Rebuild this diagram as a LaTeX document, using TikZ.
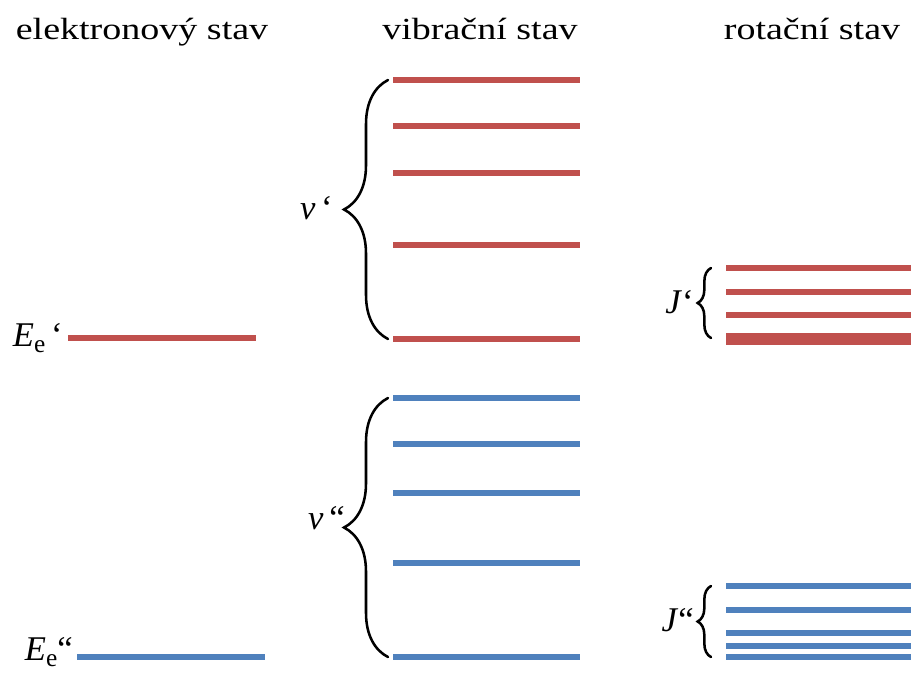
\documentclass[tikz,border=0pt]{standalone}
\usepackage{fontspec}
\setmainfont{Liberation Serif}
\usetikzlibrary{decorations.pathreplacing}
\definecolor{upper}{HTML}{C0504D}
\definecolor{lower}{HTML}{4F81BD}
\newcommand{\subE}[1]{\raisebox{-0.35ex}{\fontsize{19}{20}\selectfont #1}}
\begin{document}
\begin{tikzpicture}[x=0.75pt,y=-0.75pt,
  level/.style={line width=4.5pt},
  up/.style={level,draw=upper},
  low/.style={level,draw=lower},
  curly/.style={decorate,decoration={brace,amplitude=#1},line width=1.9pt,line cap=round},
  title/.style={font=\fontsize{23}{28}\selectfont,anchor=base,inner sep=0pt,xscale=1.24},
  lab/.style={font=\fontsize{26}{30}\selectfont,inner sep=0pt}]
\useasboundingbox (0,0) rectangle (911,672);

% column headings
\node[title] (t1) at (142,39) {elektronový stav};
\node[title] (t2) at (480,39) {vibrační stav};
\node[title] (t3) at (812,39) {rotační stav};

% electronic levels
\coordinate (eu1) at (68,338);  \coordinate (eu2) at (256,338);
\coordinate (el1) at (77,657);  \coordinate (el2) at (265,657);
\draw[up] (eu1) -- (eu2);
\draw[low] (el1) -- (el2);
\node[lab,anchor=east] (Eu) at (63,338) {\textit{E}\subE{e}\,‘};
\node[lab,anchor=east] (El) at (73,652) {\textit{E}\subE{e}“};

% vibrational levels
\foreach \y [count=\i] in {80,126,173,245,339} {
  \coordinate (vu\i a) at (393,\y); \coordinate (vu\i b) at (580,\y);
  \draw[up] (vu\i a) -- (vu\i b);
}
\foreach \y [count=\i] in {398,444,493,563,657} {
  \coordinate (vl\i a) at (393,\y); \coordinate (vl\i b) at (580,\y);
  \draw[low] (vl\i a) -- (vl\i b);
}
\coordinate (bvu1) at (388,339); \coordinate (bvu2) at (388,80);
\coordinate (bvl1) at (388,657); \coordinate (bvl2) at (388,398);
\draw[curly=33pt] (bvu1) -- (bvu2);
\draw[curly=33pt] (bvl1) -- (bvl2);
\node[lab,anchor=east] (vu) at (333,208) {\textit{v}\,‘};
\node[lab,anchor=east] (vl) at (345,518) {\textit{v}\,“};

% rotational levels
\foreach \y/\w [count=\i] in {268/4.5,292/4.5,315/4.5,339/9} {
  \coordinate (ru\i a) at (726,\y); \coordinate (ru\i b) at (911,\y);
  \draw[up,line width=\w pt] (ru\i a) -- (ru\i b);
}
\foreach \y [count=\i] in {586,610,633,646,657} {
  \coordinate (rl\i a) at (726,\y); \coordinate (rl\i b) at (911,\y);
  \draw[low] (rl\i a) -- (rl\i b);
}
\coordinate (bru1) at (711,338); \coordinate (bru2) at (711,268);
\coordinate (brl1) at (711,657); \coordinate (brl2) at (711,586);
\draw[curly=10pt] (bru1) -- (bru2);
\draw[curly=10pt] (brl1) -- (brl2);
\node[lab,anchor=east] (Ju) at (694,302) {\textit{J}‘};
\node[lab,anchor=east] (Jl) at (694,620) {\textit{J}“};
\end{tikzpicture}
\end{document}
